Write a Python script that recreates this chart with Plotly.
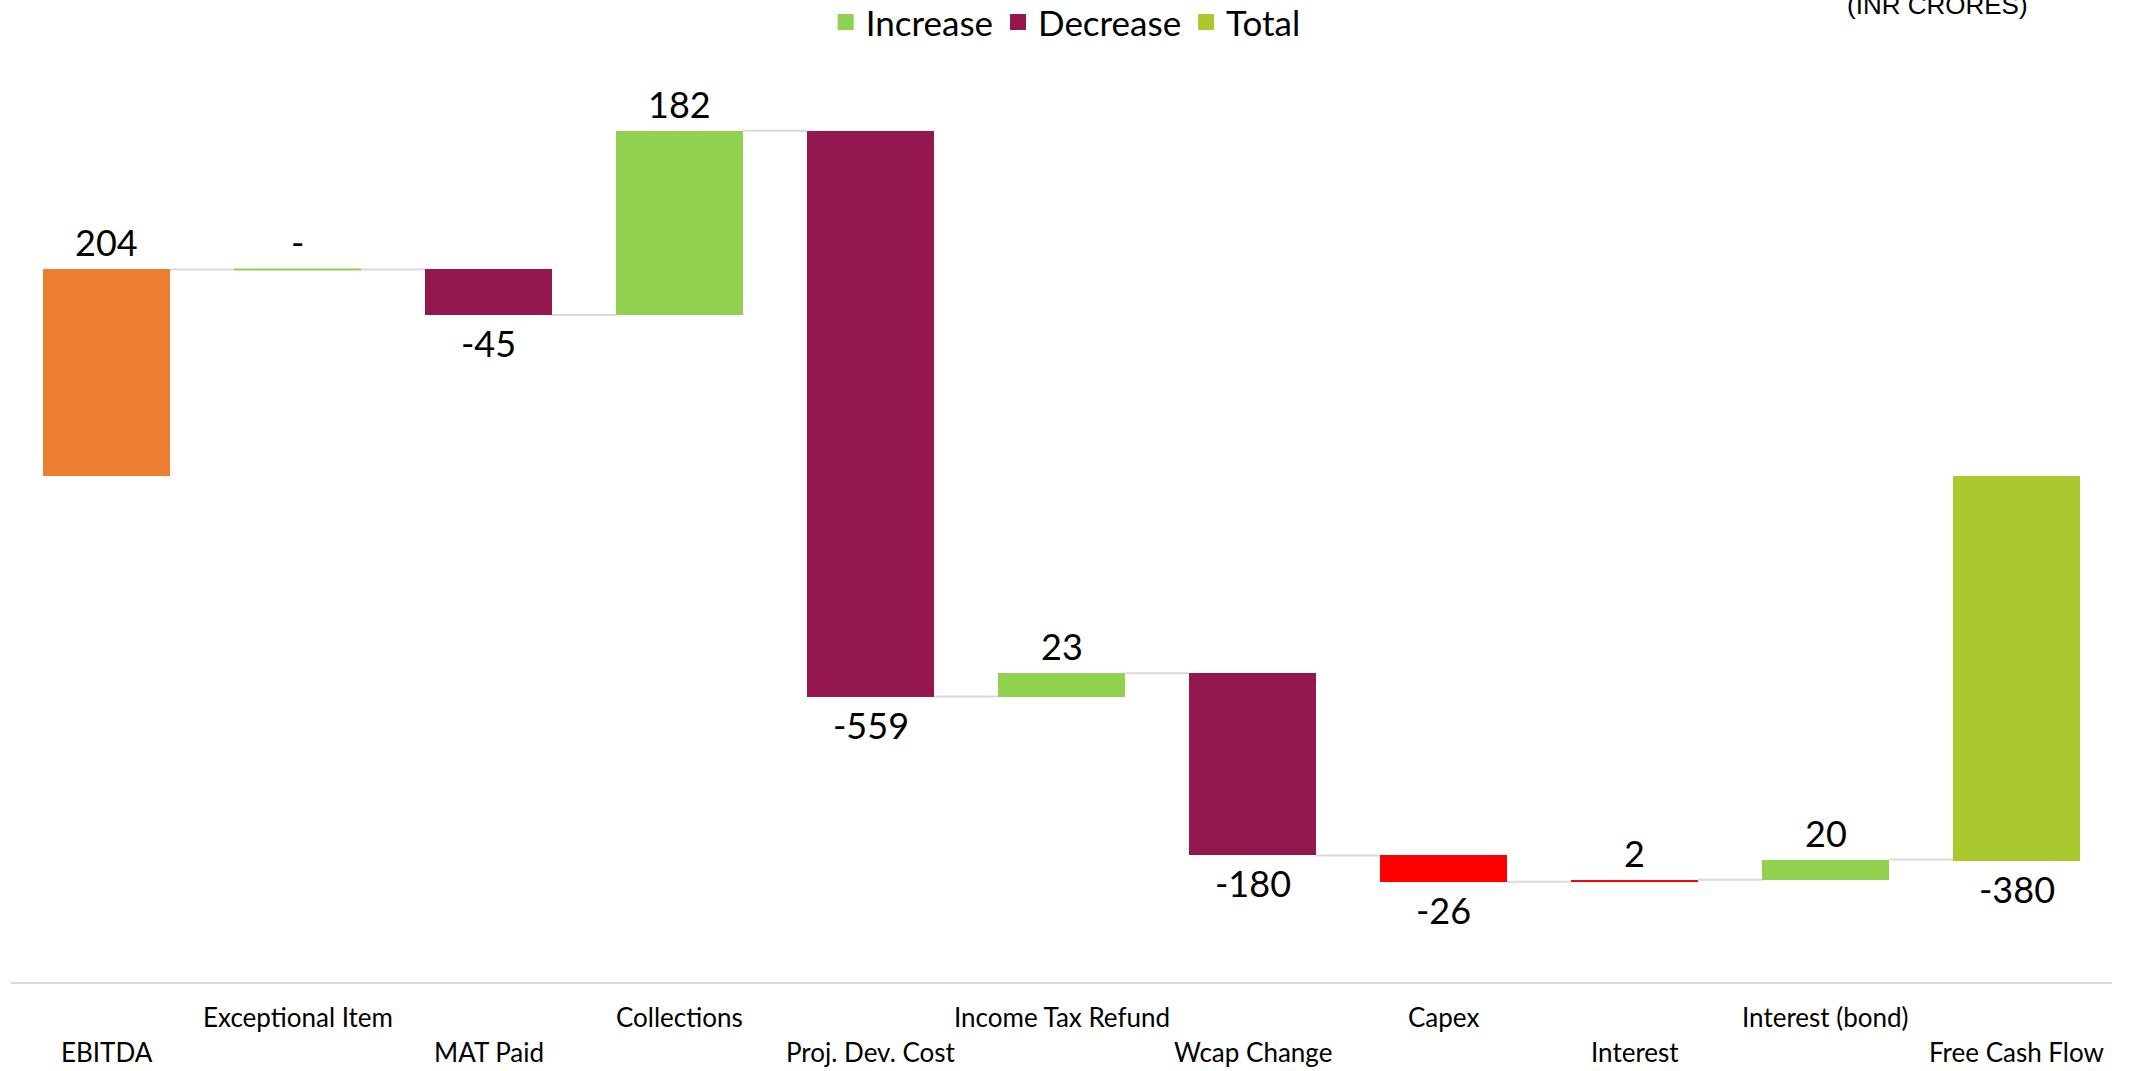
import plotly.graph_objects as go

categories = ["EBITDA", "Exceptional Item", "MAT Paid", "Collections", "Proj. Dev. Cost",
              "Income Tax Refund", "Wcap Change", "Capex", "Interest", "Interest (bond)",
              "Free Cash Flow"]
values = [204, 0, -45, 182, -559, 23, -180, -26, 2, 20, -380]
kinds = ["total", "relative", "relative", "relative", "relative", "relative",
         "relative", "relative", "relative", "relative", "total"]
bar_colors = ["#ED7D31", "#92D050", "#951750", "#92D050", "#951750", "#92D050",
              "#951750", "#FF0000", "#FF0000", "#92D050", "#A9C92F"]
legend_names = ["Increase", "Decrease", "Total"]
legend_colors = ["#92D050", "#951750", "#A9C92F"]

FONT = "Lato"
BAR_W = 0.665

# compute bases / ends
bases, ends = [], []
running = 0
for v, k in zip(values, kinds):
    if k == "total":
        b, e = 0, v
        running = v
    else:
        b, e = running, running + v
        running = running + v
    bases.append(b)
    ends.append(e)

fig = go.Figure()
fig.add_trace(go.Bar(
    x=list(range(len(categories))), y=[e - b for b, e in zip(bases, ends)], base=bases,
    marker=dict(color=bar_colors, line=dict(width=0)), width=BAR_W,
    showlegend=False, hoverinfo="skip"))

for name, col in zip(legend_names, legend_colors):
    fig.add_trace(go.Scatter(x=[None], y=[None], mode="markers", name=name,
                             marker=dict(symbol="square", size=20, color=col)))

shapes = []
# zero-height bars as thin lines
for i, (b, e) in enumerate(zip(bases, ends)):
    if b == e:
        shapes.append(dict(type="line", xref="x", yref="y", x0=i - BAR_W / 2, x1=i + BAR_W / 2,
                           y0=e, y1=e, line=dict(color=bar_colors[i], width=2)))
# connectors
for i in range(len(categories) - 1):
    lvl = ends[i]
    shapes.append(dict(type="line", xref="x", yref="y", x0=i + BAR_W / 2, x1=i + 1 - BAR_W / 2,
                       y0=lvl, y1=lvl, line=dict(color="#D9D9D9", width=2)))

annotations = []
for i, (v, b, e) in enumerate(zip(values, bases, ends)):
    txt = "-" if v == 0 else str(v)
    if v >= 0:
        annotations.append(dict(x=i, y=max(b, e), xref="x", yref="y", text=txt, showarrow=False,
                                yanchor="bottom", yshift=3, font=dict(family=FONT, size=36, color="#000")))
    else:
        annotations.append(dict(x=i, y=min(b, e), xref="x", yref="y", text=txt, showarrow=False,
                                yanchor="top", yshift=-4, font=dict(family=FONT, size=36, color="#000")))
# staggered category labels
for i, c in enumerate(categories):
    annotations.append(dict(x=i, y=(-0.0386 if i % 2 else -0.0773), xref="x", yref="paper",
                            text=c, showarrow=False, yanchor="middle",
                            font=dict(family=FONT, size=26, color="#000")))
annotations.append(dict(x=0.917, y=1.0722, xref="paper", yref="paper", text="(INR CRORES)",
                        showarrow=False, yanchor="middle", xanchor="center",
                        font=dict(family="Liberation Sans", size=26, color="#000")))

fig.update_layout(
    width=2136, height=1071,
    margin=dict(l=11, r=24, t=71, b=89, autoexpand=False),
    paper_bgcolor="white", plot_bgcolor="white",
    barmode="overlay", bargap=0,
    shapes=shapes, annotations=annotations,
    legend=dict(orientation="h", x=0.502, xanchor="center", y=1.0536, yanchor="middle",
                font=dict(family=FONT, size=35, color="#000"), itemsizing="trace",
                bgcolor="rgba(0,0,0,0)"),
    xaxis=dict(range=[-0.5, 10.5], showticklabels=False, ticks="", showgrid=False,
               zeroline=False, showline=True, linecolor="#D9D9D9", linewidth=2),
    yaxis=dict(range=[-500, 400], visible=False, showgrid=False, zeroline=False),
)

fig.write_html("out.html", config={"displayModeBar": False},
               post_script="document.body.style.margin='0';")
